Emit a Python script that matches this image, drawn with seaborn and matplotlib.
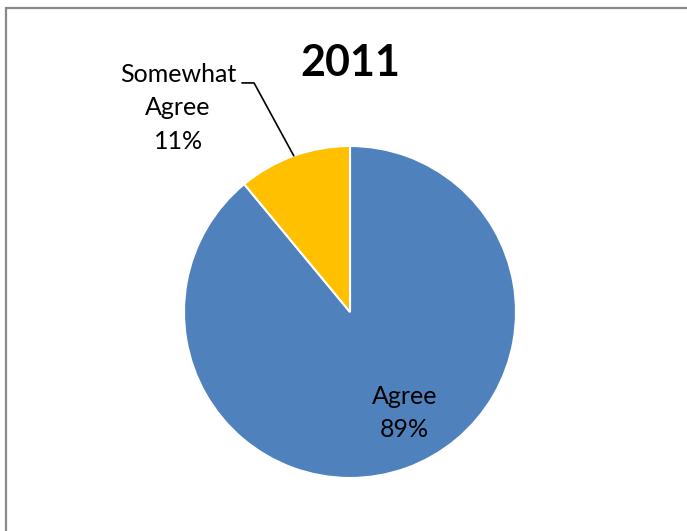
import numpy as np
import matplotlib
matplotlib.use("Agg")
import matplotlib.pyplot as plt
import seaborn as sns
from matplotlib.patches import Rectangle

# data
year = "2011"
labels = ["Agree", "Somewhat Agree"]
shares = [89, 11]
colors = ["#4F81BD", "#FFC000"]

sns.set_theme(style="white")
plt.rcParams['font.family'] = ['Lato', 'DejaVu Sans']

W, H = 687, 531
fig = plt.figure(figsize=(W / 100, H / 100), dpi=100)

# outer frame (runs off the right and bottom edges)
fig.patches.append(Rectangle((6 / W, -0.1), 1.2, 1 - 7.5 / H + 0.1, transform=fig.transFigure,
                             fill=False, edgecolor="#898989", linewidth=1.6))

# pie axes: center ~ (350, 312), radius ~166 px
cx, cy, r = 350, 312, 166
ax = fig.add_axes([(cx - r) / W, (H - cy - r) / H, 2 * r / W, 2 * r / H])
wedges, _ = ax.pie(shares, colors=colors, startangle=90, counterclock=False,
                   wedgeprops=dict(edgecolor="white", linewidth=1.5))
ax.set_xlim(-1, 1)
ax.set_ylim(-1, 1)
ax.set_aspect("equal")
ax.axis("off")

# Agree label inside the slice
ax.text(0.33, -0.61, f"{labels[0]}\n{shares[0]}%", ha="center", va="center",
        fontsize=18, linespacing=1.55, color="black")

# Somewhat Agree label outside with leader line
w = wedges[1]
mid = np.deg2rad((w.theta1 + w.theta2) / 2)
ax.plot([np.cos(mid), -0.578, -0.651], [np.sin(mid), 1.38, 1.38],
        color="black", lw=1.2, clip_on=False)
ax.text(-1.036, 1.229, "Somewhat\n" + "Agree\n" + f"{shares[1]}%", ha="center", va="center",
        fontsize=18, linespacing=1.55, color="black")

fig.text(350 / W, 1 - 63 / H, year, ha="center", va="center",
         fontsize=31, fontweight="bold", color="black")

fig.savefig("out.png", dpi=100, facecolor="white")
